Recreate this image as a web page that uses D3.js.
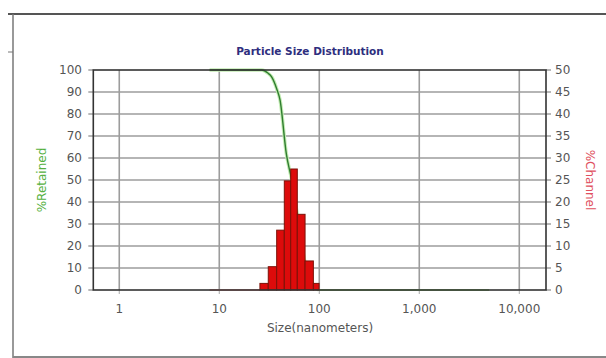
<!DOCTYPE html>
<html>
<head>
<meta charset="utf-8">
<script src="https://cdn.jsdelivr.net/npm/d3@7"></script>
<style>
  body { margin: 0; background: #fff; }
  svg { display: block; font-family: "DejaVu Sans", Verdana, sans-serif; }
</style>
</head>
<body>
<div id="chart"></div>
<script>
// channel histogram bins (nm) and % in each channel
const binLower = [25.5, 30.9, 37.5, 44.7, 51.8, 60.3, 72.1, 87.3]
const binUpper = [30.9, 37.5, 44.7, 51.8, 60.3, 72.1, 87.3, 99.5]
const channelPct = [1.5, 5.3, 13.6, 24.8, 27.5, 17.2, 6.6, 1.5]

// zero part of the channel line before the first bin
const channelBaseSize = [8, 25.5]
const channelBasePct = [0, 0]

// cumulative % retained curve
const retainedSize = [8, 26.6, 30.6, 33.5, 37.5, 40.5, 46.8, 53, 60, 71.6, 83, 98]
const retainedPct = [100, 100, 98.6, 96.8, 91.5, 86.4, 62, 50, 35, 13, 4, 0]
// flat zero tail of the retained curve
const retainedTailSize = [98, 5000]
const retainedTailPct = [0, 0]

// axis ticks
const xTicks = [1, 10, 100, 1000, 10000]
const leftTicks = [0, 10, 20, 30, 40, 50, 60, 70, 80, 90, 100]
const rightTicks = [0, 5, 10, 15, 20, 25, 30, 35, 40, 45, 50]

const W = 606, H = 358

let svg = d3.select("#chart").append("svg")
  .attr("width", W)
  .attr("height", H)

// outer frame (top + left + bottom lines)
svg.append("line").attr("x1", 8).attr("x2", W).attr("y1", 14).attr("y2", 14)
  .attr("stroke", "#555").attr("stroke-width", 2)
svg.append("line").attr("x1", 13).attr("x2", 13).attr("y1", 14).attr("y2", H)
  .attr("stroke", "#777").attr("stroke-width", 1.5)
svg.append("line").attr("x1", 8).attr("x2", 13).attr("y1", 52).attr("y2", 52)
  .attr("stroke", "#777").attr("stroke-width", 1)
svg.append("line").attr("x1", 13).attr("x2", W).attr("y1", 357).attr("y2", 357)
  .attr("stroke", "#888").attr("stroke-width", 2)

// scales
var x = d3.scaleLog().domain([0.55, 18500]).range([93.3, 546])
var yL = d3.scaleLinear().domain([0, 100]).range([290, 70])
var yR = d3.scaleLinear().domain([0, 50]).range([290, 70])

let g = svg.append("g")

// grid
g.selectAll(".hgrid").data(leftTicks.slice(1, -1)).enter().append("line")
  .attr("x1", x.range()[0]).attr("x2", x.range()[1])
  .attr("y1", d => yL(d)).attr("y2", d => yL(d))
  .attr("stroke", "#9c9c9c").attr("stroke-width", 1.6)
g.selectAll(".vgrid").data(xTicks).enter().append("line")
  .attr("x1", d => x(d)).attr("x2", d => x(d))
  .attr("y1", yL(0)).attr("y2", yL(100))
  .attr("stroke", "#9c9c9c").attr("stroke-width", 1.6)

// tick marks outside the frame
g.selectAll(".ltick").data(leftTicks).enter().append("line")
  .attr("x1", x.range()[0] - 5).attr("x2", x.range()[0])
  .attr("y1", d => yL(d)).attr("y2", d => yL(d))
  .attr("stroke", "#888").attr("stroke-width", 1.2)
g.selectAll(".rtick").data(rightTicks).enter().append("line")
  .attr("x1", x.range()[1]).attr("x2", x.range()[1] + 5)
  .attr("y1", d => yR(d)).attr("y2", d => yR(d))
  .attr("stroke", "#888").attr("stroke-width", 1.2)
g.selectAll(".btick").data(xTicks).enter().append("line")
  .attr("x1", d => x(d)).attr("x2", d => x(d))
  .attr("y1", yL(0)).attr("y2", yL(0) + 4)
  .attr("stroke", "#aaa").attr("stroke-width", 1)

// retained curve (drawn below the bars)
let retainedLine = d3.line().x(d => x(d[0])).y(d => yL(d[1])).curve(d3.curveMonotoneX)
let retainedData = retainedSize.map((s, i) => [s, retainedPct[i]])
g.append("path")
  .datum(retainedData)
  .attr("fill", "none")
  .attr("stroke", "#c4ecb4")
  .attr("stroke-width", 3.5)
  .attr("d", retainedLine)
g.append("path")
  .datum(retainedData)
  .attr("fill", "none")
  .attr("stroke", "#2f7d2f")
  .attr("stroke-width", 1.4)
  .attr("d", retainedLine)
g.append("path")
  .datum(retainedTailSize.map((s, i) => [s, retainedTailPct[i]]))
  .attr("fill", "none")
  .attr("stroke", "#8fd27a")
  .attr("stroke-width", 2)
  .attr("d", retainedLine)

// channel baseline
g.append("path")
  .datum(channelBaseSize.map((s, i) => [s, channelBasePct[i]]))
  .attr("fill", "none")
  .attr("stroke", "#f2a0a0")
  .attr("stroke-width", 2)
  .attr("d", d3.line().x(d => x(d[0])).y(d => yR(d[1])))

// channel bars
g.selectAll(".bar").data(channelPct).enter().append("rect")
  .attr("x", (d, i) => x(binLower[i]))
  .attr("width", (d, i) => x(binUpper[i]) - x(binLower[i]))
  .attr("y", d => yR(d))
  .attr("height", d => yR(0) - yR(d))
  .attr("fill", "#dd0b0b")
  .attr("stroke", "#7c1208")
  .attr("stroke-width", 1)

// plot border
g.append("rect")
  .attr("x", x.range()[0]).attr("y", yL(100))
  .attr("width", x.range()[1] - x.range()[0])
  .attr("height", yL(0) - yL(100))
  .attr("fill", "none")
  .attr("stroke", "#333")
  .attr("stroke-width", 1.6)

// tick labels
g.selectAll(".ll").data(leftTicks).enter().append("text")
  .attr("x", 82).attr("y", d => yL(d)).attr("dy", "0.36em")
  .attr("text-anchor", "end").attr("font-size", 12).attr("fill", "#555")
  .text(d => d)
g.selectAll(".rl").data(rightTicks).enter().append("text")
  .attr("x", 555).attr("y", d => yR(d)).attr("dy", "0.36em")
  .attr("text-anchor", "start").attr("font-size", 12).attr("fill", "#555")
  .text(d => d)
g.selectAll(".xl").data(xTicks).enter().append("text")
  .attr("x", d => x(d)).attr("y", 313)
  .attr("text-anchor", "middle").attr("font-size", 12).attr("fill", "#555")
  .text(d => d3.format(",")(d))

// titles
svg.append("text")
  .attr("x", 310).attr("y", 55)
  .attr("text-anchor", "middle").attr("font-size", 10.5).attr("font-weight", "bold")
  .attr("fill", "#2e2e7e")
  .text("Particle Size Distribution")
svg.append("text")
  .attr("x", 320).attr("y", 332)
  .attr("text-anchor", "middle").attr("font-size", 12).attr("fill", "#555")
  .text("Size(nanometers)")
svg.append("text")
  .attr("transform", "translate(46,180) rotate(-90)")
  .attr("text-anchor", "middle").attr("font-size", 12).attr("fill", "#55b040")
  .text("%Retained")
svg.append("text")
  .attr("transform", "translate(586,180) rotate(90)")
  .attr("text-anchor", "middle").attr("font-size", 12).attr("fill", "#e05060")
  .text("%Channel")
</script>
</body>
</html>
